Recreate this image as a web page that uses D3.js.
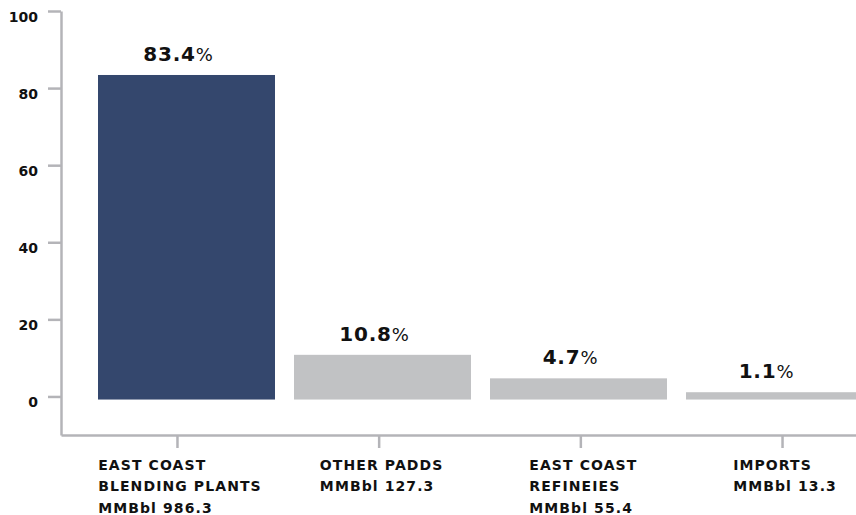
<!DOCTYPE html>
<html>
<head>
<meta charset="utf-8">
<script src="https://cdn.jsdelivr.net/npm/d3@7"></script>
<style>
  html, body { margin: 0; padding: 0; background: #fff; }
  svg { display: block; }
  text { font-family: "DejaVu Sans", sans-serif; font-weight: bold; fill: #111; }
</style>
</head>
<body>
<svg id="chart" width="856" height="515"></svg>
<script>
// ---- data ----
const categories = ["East Coast Blending Plants", "Other PADDs", "East Coast Refineries", "Imports"];
const labelNames = [["EAST COAST", "BLENDING PLANTS"], ["OTHER PADDS"], ["EAST COAST", "REFINEIES"], ["IMPORTS"]];
const volumes = [986.3, 127.3, 55.4, 13.3];
const shares = [83.4, 10.8, 4.7, 1.1];
const yTicks = [0, 20, 40, 60, 80, 100];

const data = categories.map((c, i) => ({
  cat: c, share: shares[i], volume: volumes[i],
  lines: labelNames[i].concat(["MMBbl " + volumes[i].toFixed(1)])
}));

const svg = d3.select("#chart");
const axisColor = "#b4b4b8";

const y = d3.scaleLinear().domain([-10, 100]).range([435, 11]);
const xBar = d3.scaleBand().domain(categories).range([78.4, 882.6]).paddingInner(0.097).paddingOuter(0.1);
const xTick = d3.scalePoint().domain(categories).range([61, 898]).padding(0.575);

// bars
svg.append("g").selectAll("rect").data(data).join("rect")
  .attr("x", d => xBar(d.cat))
  .attr("width", xBar.bandwidth())
  .attr("y", d => y(d.share))
  .attr("height", d => y(-0.8) - y(d.share))
  .attr("fill", (d, i) => i === 0 ? "#34476d" : "#c1c2c4");

// y axis
const gy = svg.append("g").attr("transform", "translate(61,0)")
  .call(d3.axisLeft(y).tickValues(yTicks).tickSize(13).tickSizeOuter(0).tickPadding(10));
gy.selectAll(".domain, .tick line").attr("stroke", axisColor).attr("stroke-width", 2.5);
gy.selectAll(".tick text").attr("font-size", 14).attr("dy", "0.74em")
  .style("font-family", "'DejaVu Sans', sans-serif").style("font-weight", "bold").attr("fill", "#111");

// x axis
const gx = svg.append("g").attr("transform", `translate(0,${y(-10)})`)
  .call(d3.axisBottom(xTick).tickSize(13).tickSizeOuter(0).tickFormat(""));
gx.selectAll(".domain, .tick line").attr("stroke", axisColor).attr("stroke-width", 2.5);
gx.selectAll(".tick text").remove();

// category labels: left-aligned block centered on tick
const labels = svg.append("g").selectAll("g.lbl").data(data).join("g").attr("class", "lbl");
labels.each(function(d) {
  const g = d3.select(this);
  const t = g.append("text").attr("font-size", 14).attr("letter-spacing", 1.1);
  d.lines.forEach((ln, i) => {
    t.append("tspan").attr("x", 0).attr("y", i * 21.3).text(ln);
  });
  const bw = t.node().getBBox().width;
  g.attr("transform", `translate(${xTick(d.cat) + 3 - bw / 2},${y(-10) + 35})`);
});

// value labels
const vl = svg.append("g").selectAll("text").data(data).join("text")
  .attr("x", d => xBar(d.cat) + xBar.bandwidth() / 2 - 8)
  .attr("y", d => y(d.share) - 14)
  .attr("text-anchor", "middle")
  .attr("font-size", 20)
  .attr("letter-spacing", 0.8);
vl.append("tspan").text(d => d.share.toFixed(1));
vl.append("tspan").attr("font-size", 18).style("font-weight", "normal").text("%");
</script>
</body>
</html>
